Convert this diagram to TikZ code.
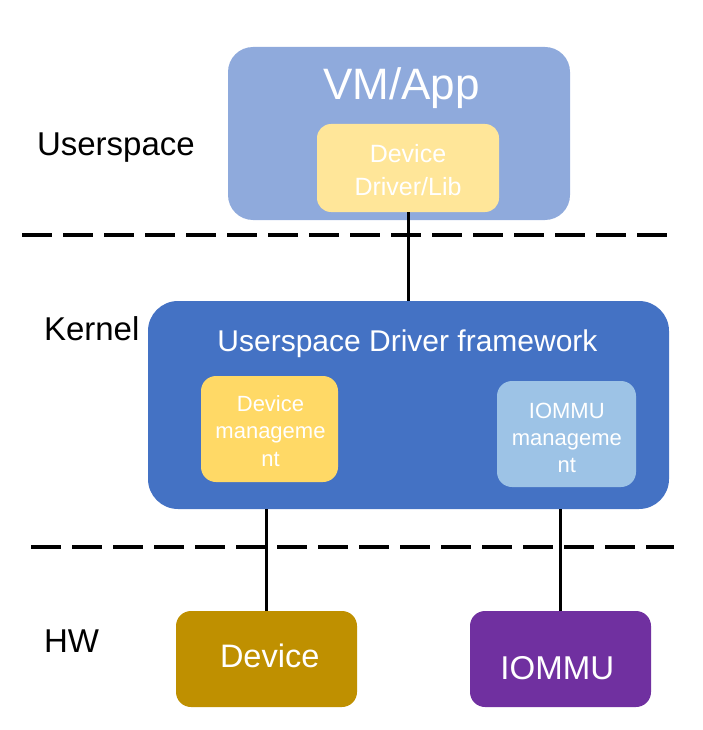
\documentclass[tikz,border=0pt]{standalone}
\usepackage{fontspec}
\setmainfont{Liberation Sans}
\definecolor{vmblue}{HTML}{8FAADC}
\definecolor{kernblue}{HTML}{4472C4}
\definecolor{ddlyellow}{HTML}{FFE699}
\definecolor{mgmtyellow}{HTML}{FFD966}
\definecolor{mgmtblue}{HTML}{9DC3E6}
\definecolor{devgold}{HTML}{BF9000}
\definecolor{iompurple}{HTML}{7030A0}
\begin{document}
\begin{tikzpicture}[x=1pt,y=-1pt,
  box/.style={draw=none, inner sep=0pt, outer sep=0pt},
  txt/.style={inner sep=0pt, outer sep=0pt, text=white, align=center},
  lbl/.style={inner sep=0pt, outer sep=0pt, text=black, anchor=base west, font=\fontsize{33}{40}\selectfont},
  conn/.style={draw=black, line width=3pt},
  sep/.style={draw=black, line width=4pt, dash pattern=on 30pt off 11pt}]
\useasboundingbox (0,0) rectangle (702,730);

% boxes
\node[box, fill=vmblue, rounded corners=25pt, minimum width=342pt, minimum height=173pt] (vm) at (399,133.5) {};
\node[box, fill=ddlyellow, rounded corners=14pt, minimum width=182pt, minimum height=88pt] (ddl) at (408,168) {};
\node[box, fill=kernblue, rounded corners=30pt, minimum width=521pt, minimum height=208pt] (kern) at (408.5,405) {};
\node[box, fill=mgmtyellow, rounded corners=15pt, minimum width=137pt, minimum height=106pt] (dmg) at (269.5,429) {};
\node[box, fill=mgmtblue, rounded corners=15pt, minimum width=139pt, minimum height=106pt] (img) at (566.5,434) {};
\node[box, fill=devgold, rounded corners=15pt, minimum width=181pt, minimum height=96pt] (dev) at (266.5,659) {};
\node[box, fill=iompurple, rounded corners=15pt, minimum width=181pt, minimum height=96pt] (iom) at (560.5,659) {};

% texts
\node[txt, anchor=base, font=\fontsize{44}{52}\selectfont] (vmt) at (401.5,100) {VM/App};
\node[txt, font=\fontsize{25}{33}\selectfont] (ddlt) at (408,170) {Device\\Driver/Lib};
\node[txt, anchor=base, font=\fontsize{30}{36}\selectfont] (kernt) at (407.5,351) {Userspace Driver framework};
\node[txt, font=\fontsize{22}{27.5}\selectfont] (dmgt) at (270.5,431) {Device\\manageme\\nt};
\node[txt, font=\fontsize{22}{27}\selectfont] (imgt) at (566.8,437.5) {IOMMU\\manageme\\nt};
\node[txt, anchor=base, font=\fontsize{32.5}{40}\selectfont] (devt) at (269.7,667.3) {Device};
\node[txt, anchor=base, font=\fontsize{33}{40}\selectfont] (iomt) at (557.3,679.3) {IOMMU};

% layer labels
\node[lbl] (lus) at (37,156) {Userspace};
\node[lbl] (lk) at (44,340) {Kernel};
\node[lbl] (lhw) at (44,652.7) {HW};

% separators
\coordinate (s1a) at (22,235);
\coordinate (s1b) at (667,235);
\coordinate (s2a) at (31,547);
\coordinate (s2b) at (674,547);
\draw[sep] (s1a) -- (s1b);
\draw[sep] (s2a) -- (s2b);

% connectors
\draw[conn] (ddl.south) -- (ddl.south |- kern.north);
\draw[conn] (dev.north) -- (dev.north |- kern.south);
\draw[conn] (iom.north) -- (iom.north |- kern.south);
\end{tikzpicture}
\end{document}
